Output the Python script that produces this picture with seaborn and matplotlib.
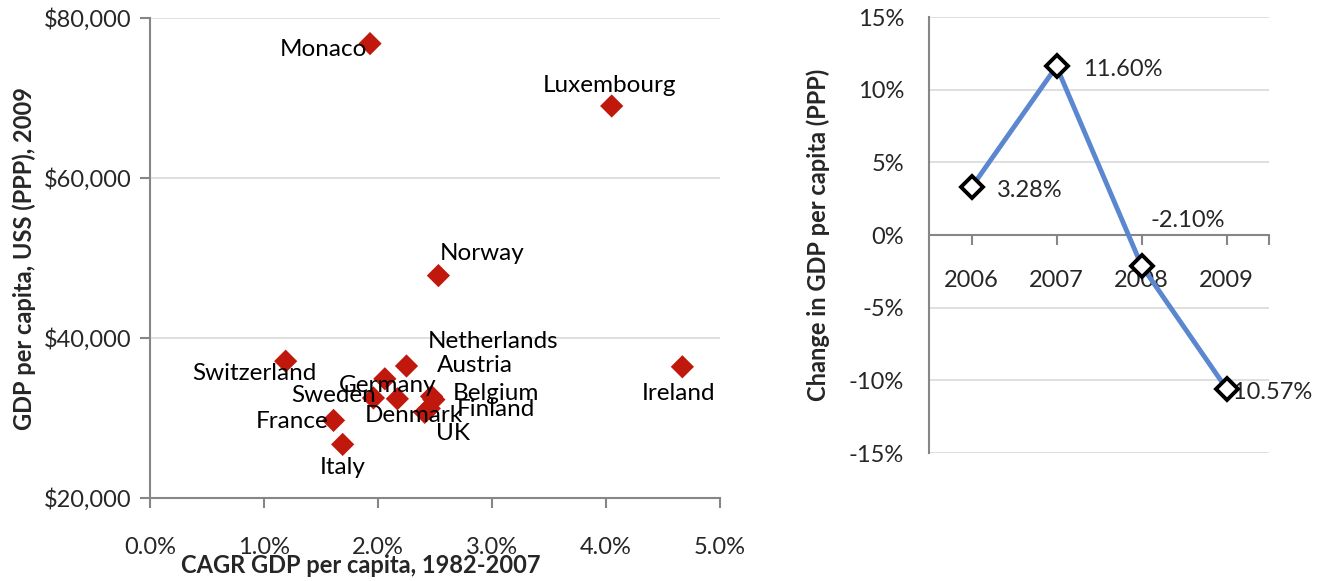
import numpy as np
import pandas as pd
import matplotlib
matplotlib.use("Agg")
import matplotlib.pyplot as plt
import seaborn as sns
from matplotlib.ticker import FuncFormatter, FixedLocator

# scatter data: CAGR 1982-2007 (%) vs GDP per capita 2009
countries = ['Monaco', 'Luxembourg', 'Norway', 'Netherlands', 'Austria', 'Switzerland',
             'Germany', 'Sweden', 'Belgium', 'Denmark', 'Finland', 'UK', 'France',
             'Italy', 'Ireland']
cagr = [1.93, 4.05, 2.53, 2.25, 2.47, 1.19, 2.06, 1.96, 2.49, 2.17, 2.45, 2.41, 1.61, 1.69, 4.67]
gdp = [76800, 69000, 47800, 36500, 32700, 37100, 34900, 32500, 32300, 32400, 31200, 30700,
       29700, 26700, 36400]

# line data: change in GDP per capita
years = ['2006', '2007', '2008', '2009']
change = [3.28, 11.60, -2.10, -10.57]

# label offsets in pixels (dx, dy) from each marker, with alignment
label_pos = {
    'Monaco': (-3, -6, 'right'), 'Luxembourg': (-2, 21, 'center'), 'Norway': (1, 22, 'left'),
    'Netherlands': (21, 25, 'left'), 'Austria': (5, 31, 'left'), 'Switzerland': (-31, -12, 'center'),
    'Germany': (3, -7, 'center'), 'Sweden': (-40, 3, 'center'), 'Belgium': (19, 6, 'left'),
    'Denmark': (16, -17, 'center'), 'Finland': (27, -1, 'left'), 'UK': (11, -21, 'left'),
    'France': (-41, -1, 'center'), 'Italy': (0, -23, 'center'), 'Ireland': (-4, -27, 'center'),
}

sns.set_style('white')
plt.rcParams['font.family'] = ['Lato', 'DejaVu Sans']
grey = '#868686'
grid = '#d9d9d9'
fs = 17

fig = plt.figure(figsize=(13.31, 5.81), dpi=100)
ax1 = fig.add_axes([150/1331, 1-498/581, 570/1331, 480/581])
ax2 = fig.add_axes([929/1331, 1-453/581, 340/1331, 436/581])

df = pd.DataFrame({'country': countries, 'cagr': cagr, 'gdp': gdp})
sns.scatterplot(data=df, x='cagr', y='gdp', ax=ax1, marker='D', s=140,
                color='#c0180c', edgecolor='none', zorder=3)
for c, x, y in zip(countries, cagr, gdp):
    dx, dy, ha = label_pos[c]
    ax1.annotate(c, (x, y), xytext=(dx, dy), textcoords='offset pixels',
                 ha=ha, va='center', fontsize=17.5, color='black', zorder=4)

ax1.set_xlim(0, 5)
ax1.set_ylim(20000, 80000)
ax1.set_xticks(np.arange(0, 5.01, 1))
ax1.set_yticks(np.arange(20000, 80001, 20000))
ax1.xaxis.set_major_formatter(FuncFormatter(lambda v, p: f'{v:.1f}%'))
ax1.yaxis.set_major_formatter(FuncFormatter(lambda v, p: f'${v:,.0f}'))
ax1.grid(axis='y', color=grid, lw=1.2)
ax1.set_axisbelow(True)
for s in ['top', 'right']:
    ax1.spines[s].set_visible(False)
for s in ['left', 'bottom']:
    ax1.spines[s].set_color(grey)
    ax1.spines[s].set_linewidth(1.5)
ax1.tick_params(axis='both', direction='out', length=7, width=1.5, color=grey,
                labelsize=fs, bottom=True, left=True)
ax1.tick_params(axis='x', pad=21)
ax1.tick_params(axis='y', pad=6)
ax1.set_xlabel('CAGR GDP per capita, 1982-2007', fontsize=fs, fontweight='bold')
ax1.set_ylabel('GDP per capita, USS (PPP), 2009', fontsize=fs, fontweight='bold')
ax1.xaxis.set_label_coords(0.37, -0.117)
ax1.yaxis.set_label_coords(-0.2, 0.5)

dl = pd.DataFrame({'year': years, 'change': change})
sns.lineplot(data=dl, x='year', y='change', ax=ax2, color='#5b87d1', lw=3.5,
             marker='D', markersize=11, markerfacecolor='white',
             markeredgecolor='black', markeredgewidth=2.8, zorder=3)
lab_off = [(25, -3), (27, -3), (9, 45), (-2, -4)]
for i, (y, off) in enumerate(zip(change, lab_off)):
    ax2.annotate(f'{y:.2f}%', (i, y), xytext=off, textcoords='offset pixels',
                 ha='left', va='center', fontsize=fs, zorder=2)

ax2.set_xlim(-0.5, 3.5)
ax2.set_ylim(-15, 15)
ax2.set_yticks(np.arange(-15, 15.1, 5))
ax2.yaxis.set_major_formatter(FuncFormatter(lambda v, p: f'{v:.0f}%'))
ax2.xaxis.set_minor_locator(FixedLocator([3.5]))
ax2.grid(axis='y', color=grid, lw=1.2)
ax2.set_axisbelow(True)
for s in ['top', 'right']:
    ax2.spines[s].set_visible(False)
ax2.spines['left'].set_color(grey)
ax2.spines['left'].set_linewidth(1.5)
ax2.spines['bottom'].set_position(('data', 0))
ax2.spines['bottom'].set_color(grey)
ax2.spines['bottom'].set_linewidth(1.5)
ax2.tick_params(axis='y', length=0, labelsize=fs, pad=18)
ax2.tick_params(axis='x', which='both', direction='out', length=7, width=1.5,
                color=grey, labelsize=fs, pad=18, bottom=True)
ax2.set_xlabel('')
ax2.set_ylabel('Change in GDP per capita (PPP)', fontsize=fs, fontweight='bold')
ax2.yaxis.set_label_coords(-0.29, 0.5)

fig.savefig('out.png', dpi=100)
